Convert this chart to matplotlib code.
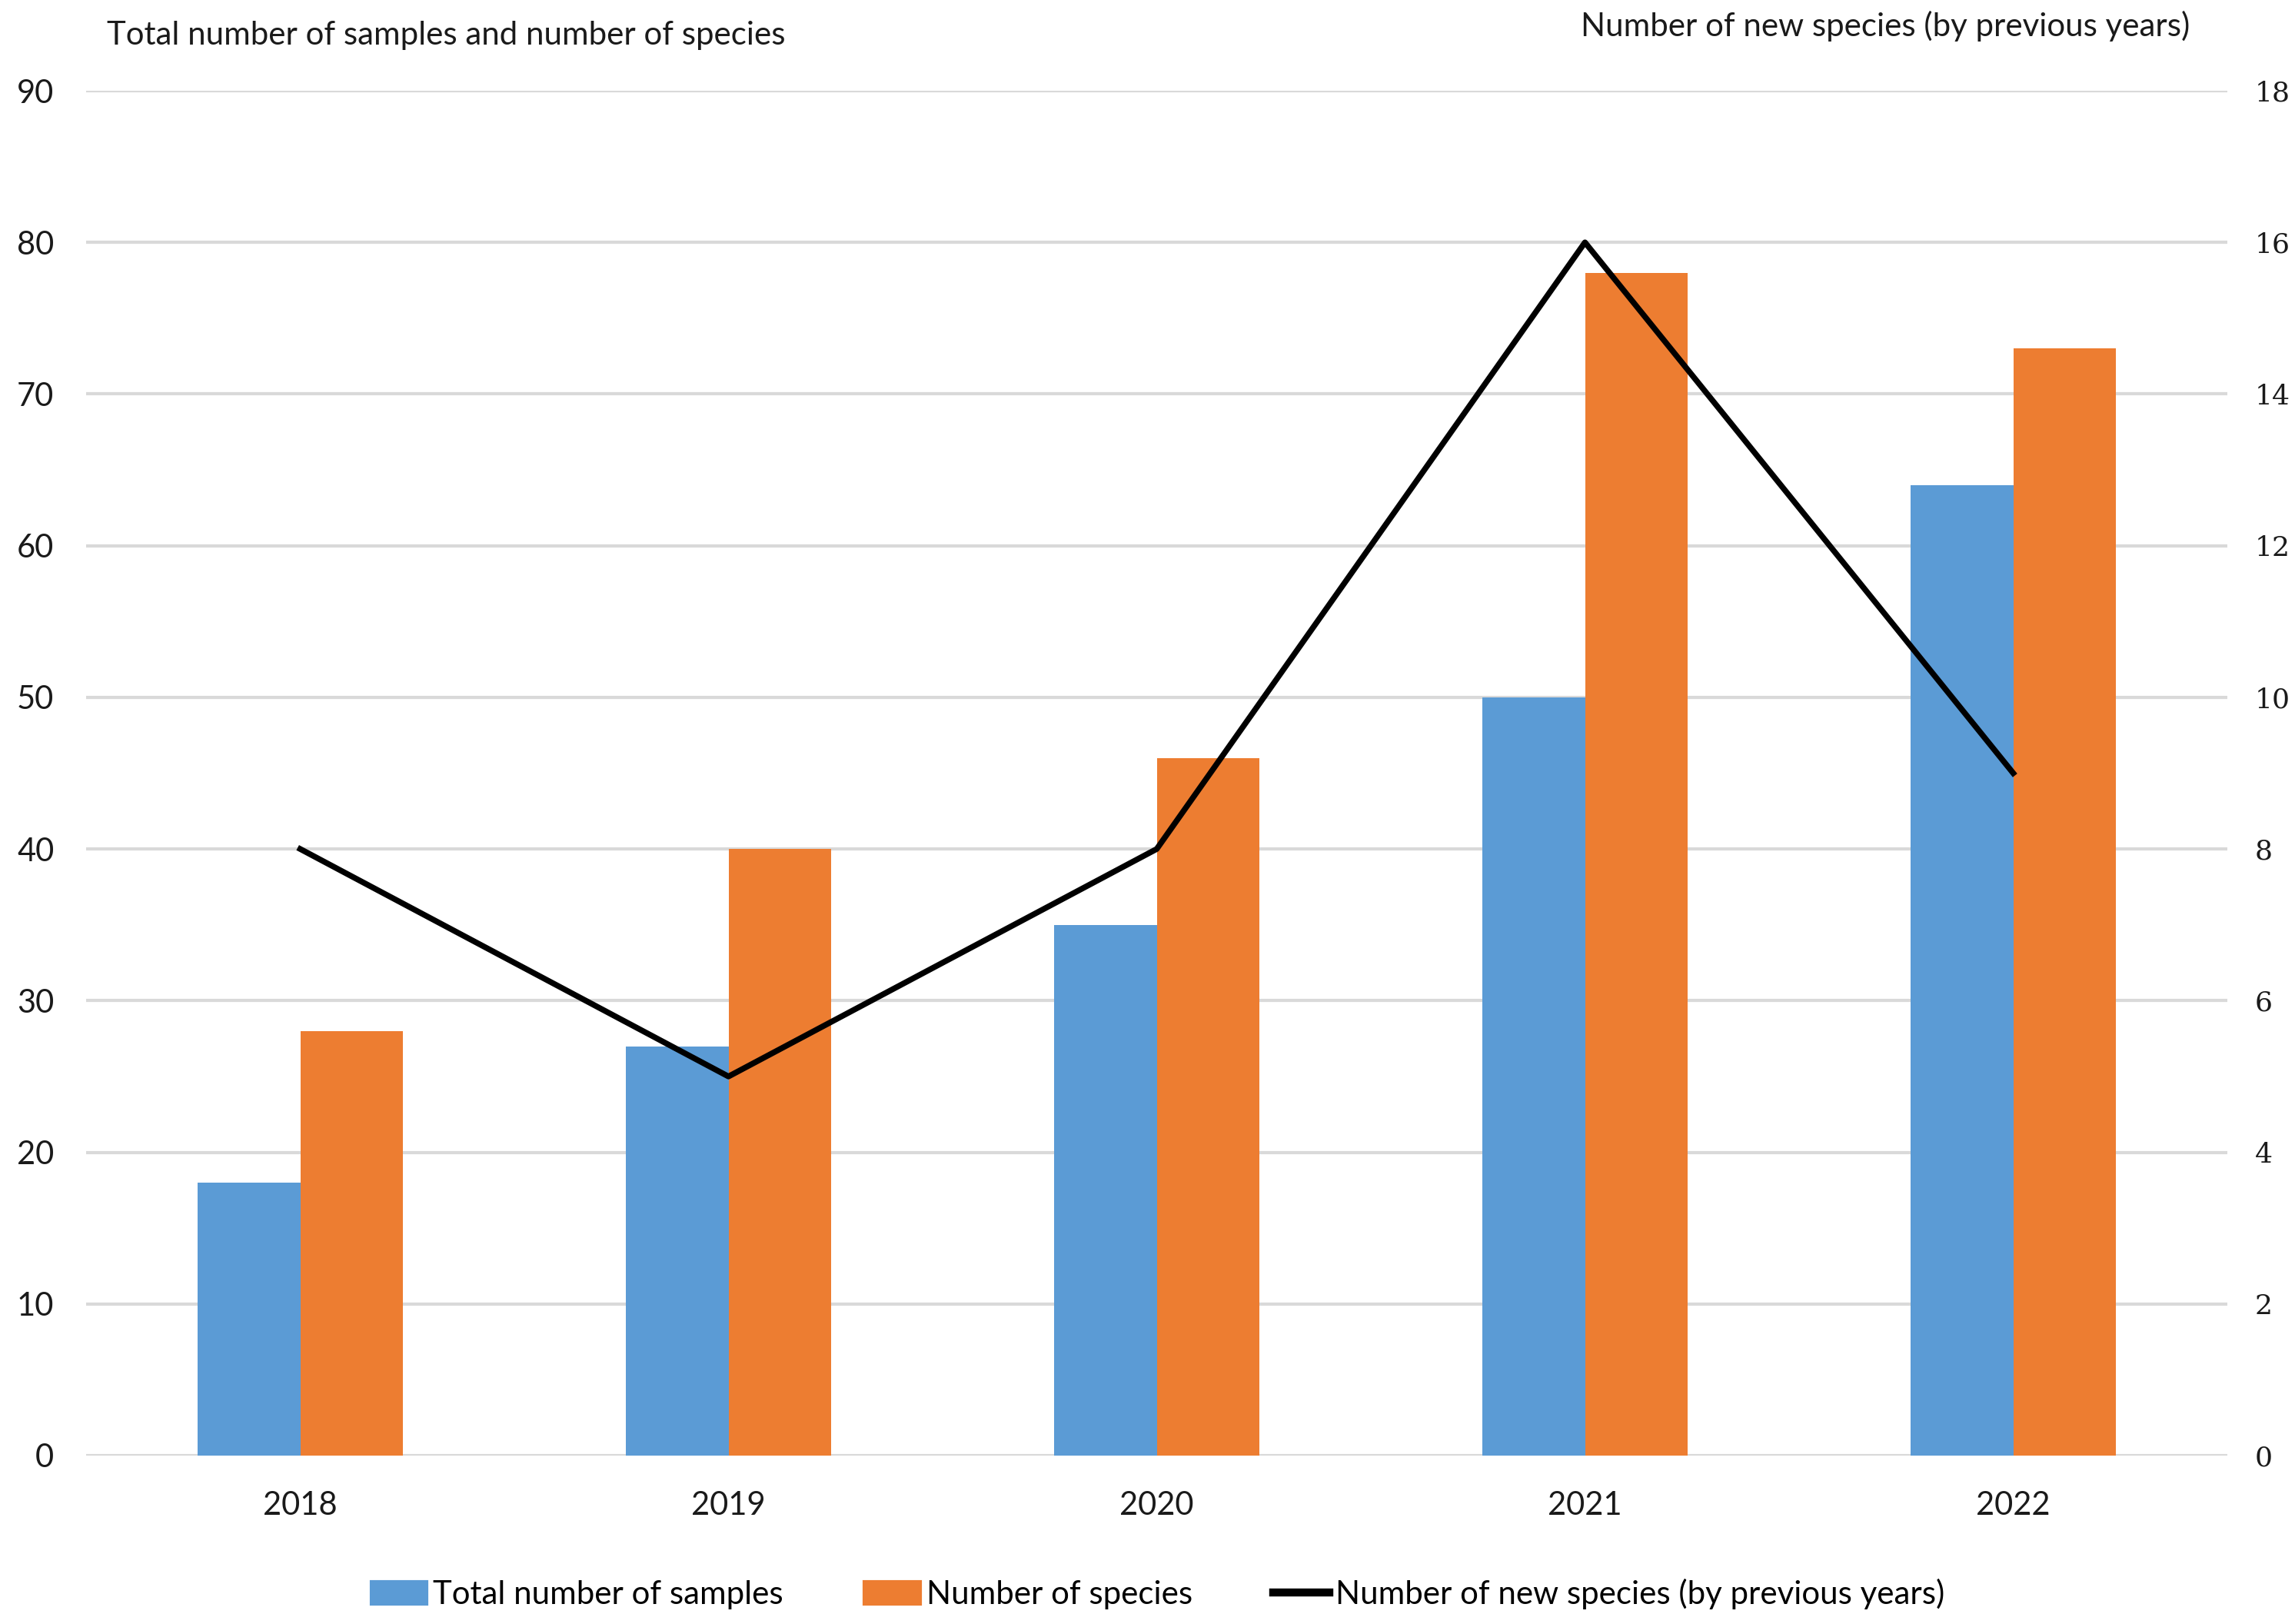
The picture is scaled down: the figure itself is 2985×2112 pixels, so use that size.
import matplotlib
matplotlib.use("Agg")
from matplotlib import pyplot as plt
from matplotlib.patches import Patch
from matplotlib.lines import Line2D
import numpy as np

years = ["2018", "2019", "2020", "2021", "2022"]
total_samples = [18, 27, 35, 50, 64]
num_species = [28, 40, 46, 78, 73]
new_species = [8, 5, 8, 16, 9]

blue = "#5B9BD5"
orange = "#ED7D31"
grid_col = "#D9D9D9"

plt.rcParams['font.family'] = ['Lato', 'DejaVu Sans']

fig = plt.figure(figsize=(2985 / 300, 2112 / 300), dpi=300)
ax = fig.add_axes([112 / 2985, 1 - 1893 / 2112, (2897 - 112) / 2985, (1893 - 118) / 2112])

ix = np.arange(len(years))
w = 0.24
ax.bar(ix - w / 2, total_samples, w, color=blue, zorder=2)
ax.bar(ix + w / 2, num_species, w, color=orange, zorder=2)

ax.set_xlim(-0.5, 4.5)
ax.set_ylim(0, 90)
ax.set_yticks(range(0, 91, 10))
ax.yaxis.grid(True, color=grid_col, linewidth=1.0, zorder=0)
ax.set_axisbelow(True)
for s in ax.spines.values():
    s.set_visible(False)
ax.tick_params(axis='both', length=0, labelsize=10, colors='#1a1a1a')
ax.tick_params(axis='y', pad=10)
ax.tick_params(axis='x', pad=11)
ax.set_xticks(ix)
ax.set_xticklabels(years)

ax2 = ax.twinx()
ax2.plot(ix, new_species, color='black', linewidth=1.8, zorder=5)
ax2.set_ylim(0, 18)
ax2.set_yticks(range(0, 19, 2))
for s in ax2.spines.values():
    s.set_visible(False)
ax2.tick_params(axis='y', length=0, pad=8.5, colors='#1a1a1a')
for lab in ax2.get_yticklabels():
    lab.set_fontfamily('DejaVu Serif')
    lab.set_fontsize(8.7)

fig.text(139 / 2985, 1 - 46 / 2112, "Total number of samples and number of species",
         fontsize=10.1, va='center', ha='left', color='#1a1a1a')
fig.text(2848 / 2985, 1 - 34 / 2112, "Number of new species (by previous years)",
         fontsize=10.1, va='center', ha='right', color='#1a1a1a')

handles = [Patch(color=blue), Patch(color=orange), Line2D([0], [0], color='black', linewidth=2.5)]
labels = ["Total number of samples", "Number of species", "Number of new species (by previous years)"]
fig.legend(handles, labels, loc='center', bbox_to_anchor=(1506 / 2985, 1 - 2073 / 2112),
           ncol=3, frameon=False, fontsize=10.1, handlelength=1.72, handleheight=0.7,
           handletextpad=0.2, columnspacing=2.5)

fig.savefig("out.png", dpi=300, facecolor='white')
